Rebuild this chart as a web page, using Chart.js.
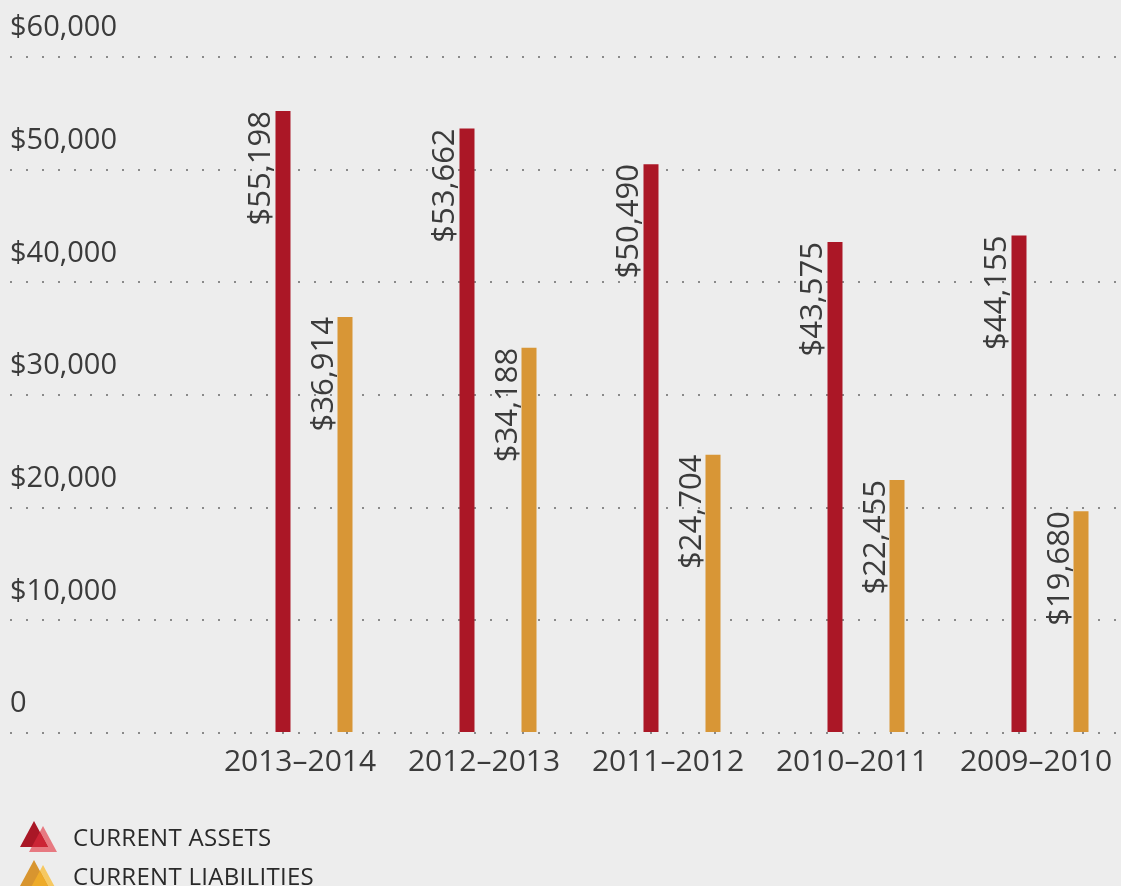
<!DOCTYPE html>
<html>
<head>
<meta charset="utf-8">
<script src="https://cdn.jsdelivr.net/npm/chart.js@4.4.1/dist/chart.umd.min.js"></script>
<style>
    html, body { margin: 0; padding: 0; background: #ededed; }
    #wrap { width: 1121px; height: 886px; overflow: hidden; position: relative; }
    #balanceChart { display: block; }
    #legend { position: absolute; left: 20px; top: 817px; font-family: 'Open Sans', sans-serif; font-size: 24px; color: #2a2a2a; letter-spacing: 0.3px; }
    .legend-item { display: flex; align-items: center; height: 39px; }
    .legend-item canvas { margin-right: 15px; }
</style>
</head>
<body>
<div id="wrap">
    <!-- canvas a bit wider than the page so the last group sits where the reference has it -->
    <canvas id="balanceChart" width="1142" height="800"></canvas>
    <div id="legend"></div>
</div>
<script>
const years = ['2013–2014', '2012–2013', '2011–2012', '2010–2011', '2009–2010'];
const currentAssets = [55198, 53662, 50490, 43575, 44155];
const currentLiabilities = [36914, 34188, 24704, 22455, 19680];
const seriesNames = ['CURRENT ASSETS', 'CURRENT LIABILITIES'];
const seriesColors = ['#ab1726', '#d89636'];
// dark / overlap / light tones for the legend triangles
const iconColors = [
    ['#a91726', '#cc2435', '#e77981'],
    ['#d8952f', '#eeab29', '#f6c861']
];
const yMax = 60000;
const yStep = 10000;

const textColor = '#3b3b3b';
const gridColor = '#8a8a8a';
const fontFamily = "'Open Sans', sans-serif";

function money(v) {
    return '$' + v.toLocaleString('en-US');
}

// rotated value labels sitting left of each bar
const barValueLabels = {
    id: 'barValueLabels',
    afterDatasetsDraw(chart) {
        const ctx = chart.ctx;
        ctx.save();
        ctx.font = '31px ' + fontFamily;
        ctx.fillStyle = textColor;
        ctx.textAlign = 'right';
        ctx.textBaseline = 'alphabetic';
        chart.data.datasets.forEach((ds, i) => {
            chart.getDatasetMeta(i).data.forEach((bar, j) => {
                ctx.save();
                ctx.translate(bar.x - bar.width / 2 - 5, bar.y);
                ctx.rotate(-Math.PI / 2);
                ctx.fillText(money(ds.data[j]), 0, 0);
                ctx.restore();
            });
        });
        ctx.restore();
    }
};

const ctx = document.getElementById('balanceChart').getContext('2d');

const balanceChart = new Chart(ctx, {
    type: 'bar',
    data: {
        labels: years,
        datasets: [
            { label: seriesNames[0], data: currentAssets, backgroundColor: seriesColors[0] },
            { label: seriesNames[1], data: currentLiabilities, backgroundColor: seriesColors[1] }
        ]
    },
    options: {
        responsive: false,
        animation: false,
        categoryPercentage: 0.674,
        barPercentage: 0.242,
        layout: {
            padding: { top: 57, left: 10, right: 0, bottom: 9 }
        },
        plugins: {
            legend: { display: false },
            title: { display: false },
            tooltip: { enabled: false }
        },
        scales: {
            y: {
                min: 0,
                max: yMax,
                afterFit: (scale) => { scale.width = 212; },
                border: { display: false, dash: [2, 14], dashOffset: 4 },
                grid: {
                    color: gridColor,
                    lineWidth: 2,
                    drawTicks: true,
                    tickLength: 212,
                    tickColor: gridColor,
                    tickWidth: 2,
                    tickBorderDash: [2, 14]
                },
                ticks: {
                    stepSize: yStep,
                    crossAlign: 'far',
                    labelOffset: -29,
                    color: textColor,
                    font: { family: fontFamily, size: 29 },
                    callback: (v) => v === 0 ? '0' : money(v)
                }
            },
            x: {
                border: { display: false },
                grid: { display: false, drawTicks: false },
                ticks: {
                    color: textColor,
                    font: { family: fontFamily, size: 30 },
                    padding: 11,
                    labelOffset: -14,
                    maxRotation: 0,
                    autoSkip: false
                }
            }
        }
    },
    plugins: [barValueLabels]
});

// html legend built from the datasets
function drawIcon(cols) {
    const c = document.createElement('canvas');
    c.width = 38;
    c.height = 32;
    const g = c.getContext('2d');
    const t1 = [[0, 26], [14, 0], [28, 26]];
    const t2 = [[9, 31], [23, 5], [37, 31]];
    const path = (pts) => {
        g.beginPath();
        g.moveTo(pts[0][0], pts[0][1]);
        pts.slice(1).forEach(p => g.lineTo(p[0], p[1]));
        g.closePath();
    };
    g.fillStyle = cols[2]; path(t2); g.fill();
    g.fillStyle = cols[0]; path(t1); g.fill();
    g.save();
    path(t1); g.clip();
    g.fillStyle = cols[1]; path(t2); g.fill();
    g.restore();
    return c;
}

const legendBox = document.getElementById('legend');
balanceChart.data.datasets.forEach((ds, i) => {
    const row = document.createElement('div');
    row.className = 'legend-item';
    row.appendChild(drawIcon(iconColors[i]));
    const span = document.createElement('span');
    span.textContent = ds.label;
    row.appendChild(span);
    legendBox.appendChild(row);
});
</script>
</body>
</html>
